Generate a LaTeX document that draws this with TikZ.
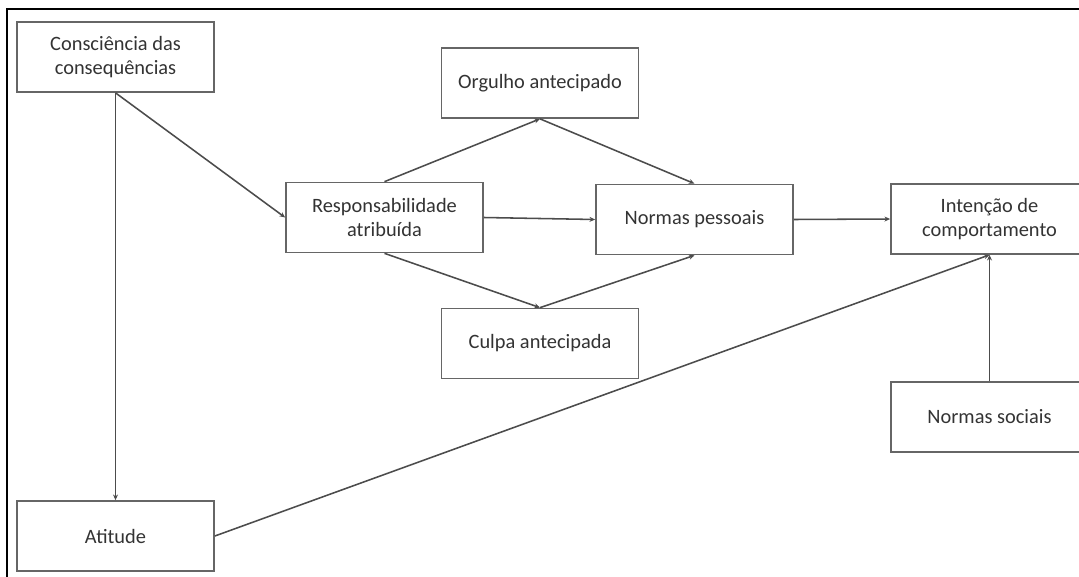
\documentclass[tikz,border=0pt]{standalone}
\usepackage{fontspec}
\setmainfont{Carlito}
\usepackage{tikz}
\usetikzlibrary{arrows.meta, positioning}

\begin{document}
\begin{tikzpicture}[x=0.025cm, y=-0.025cm,
    box/.style={draw=gray!80!black, line width=1.2pt, rectangle, fill=white, text=black!80,
        minimum width=4.925cm, minimum height=1.75cm, align=center,
        font=\fontsize{14.5}{16.5}\selectfont},
    link/.style={-{Stealth[length=4pt, width=3.5pt]}, draw=black!70, line width=1.1pt}
]
\clip (0,0) rectangle (1079,577);
\fill[white] (0,0) rectangle (1079,577);

% Frame
\draw[line width=1.6pt] (7,577) -- (7,9) -- (1079,9);

% Boxes
\node[box] (cons) at (115.5,57) {Consciência das\\consequências};
\node[box] (atit) at (115.5,536) {Atitude};
\node[box] (resp) at (384.5,217.5) {Responsabilidade\\atribuída};
\node[box] (orgulho) at (540,83) {Orgulho antecipado};
\node[box] (culpa) at (540,343.5) {Culpa antecipada};
\node[box] (npess) at (694.5,219.5) {Normas pessoais};
\node[box] (intenc) at (989.5,219) {Intenção de\\comportamento};
\node[box] (nsoc) at (989.5,417) {Normas sociais};

% Arrows
\draw[link] (cons.south) -- (atit.north);
\draw[link] (cons.south) -- (resp.west);
\draw[link] (resp.north) -- (orgulho.south);
\draw[link] (orgulho.south) -- (npess.north);
\draw[link] (resp.east) -- (npess.west);
\draw[link] (resp.south) -- (culpa.north);
\draw[link] (culpa.north) -- (npess.south);
\draw[link] (npess.east) -- (intenc.west);
\draw[link] (atit.east) -- (intenc.south);
\draw[link] (nsoc.north) -- (intenc.south);

\end{tikzpicture}
\end{document}
